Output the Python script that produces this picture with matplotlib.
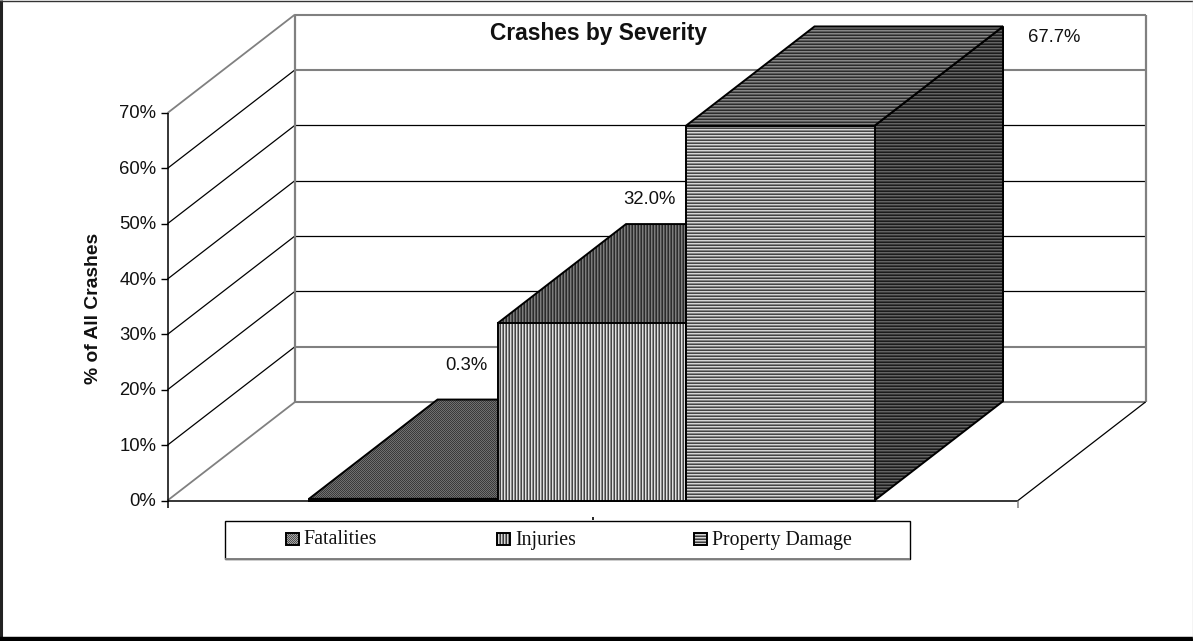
import numpy as np
import matplotlib
matplotlib.use("Agg")
import matplotlib.pyplot as plt
from matplotlib.patches import Polygon, Rectangle

# Chart content
categories = ["Fatalities", "Injuries", "Property Damage"]
values = [0.3, 32.0, 67.7]
value_labels = ["0.3%", "32.0%", "67.7%"]
y_ticks = [0, 10, 20, 30, 40, 50, 60, 70]
y_tick_labels = ["0%", "10%", "20%", "30%", "40%", "50%", "60%", "70%"]
title = "Crashes by Severity"
y_title = "% of All Crashes"

W, H = 1193, 641

# Oblique projection of the 3-D plot box, in figure pixels
X_FRONT_LEFT, X_FRONT_RIGHT = 167.5, 1018.0
Y_ZERO, Y_TOP = 500.5, 113.0
DEPTH_X, DEPTH_Y = 127.5, 98.5
BAR_LEFT, BAR_WIDTH = 309.0, 188.5
BAR_DEPTH = 1.008


def py(v):
    return Y_ZERO - (Y_ZERO - Y_TOP) * v / y_ticks[-1]


def pt(x, v, depth=0.0):
    return (x + DEPTH_X * depth, py(v) - DEPTH_Y * depth)


def stripes(levels, axis):
    """Full-figure grayscale texture made of repeating one-pixel stripes."""
    n = len(levels)
    row = np.asarray(levels, dtype=float)
    if axis == "h":
        idx = np.arange(H) % n
        return np.tile(row[idx][:, None], (1, W))
    idx = np.arange(W) % n
    return np.tile(row[idx][None, :], (H, 1))


def stipple(a, b):
    yy, xx = np.mgrid[0:H, 0:W]
    return np.where((xx + yy) % 2 == 0, a, b).astype(float)


textures = {
    "Fatalities": {
        "front": stipple(90, 160),
        "side": stipple(40, 90),
        "top": stipple(58, 112),
        "legend": stipple(80, 165),
    },
    "Injuries": {
        "front": stripes([225, 140, 70], "v"),
        "side": stripes([80, 50, 25], "v"),
        "top": stripes([125, 80, 45], "v"),
        "legend": stripes([215, 130, 60], "v"),
    },
    "Property Damage": {
        "front": stripes([215, 135, 70], "h"),
        "side": stripes([100, 60, 28], "h"),
        "top": stripes([135, 90, 45], "h"),
        "legend": stripes([215, 130, 60], "h"),
    },
}

plt.rcParams["font.family"] = ["Liberation Sans", "DejaVu Sans"]
fig = plt.figure(figsize=(W / 100, H / 100), dpi=100, facecolor="white")
ax = fig.add_axes([0, 0, 1, 1])
ax.set_axis_off()

GRAY = "#808080"
BLACK = "#000000"


def line(xs, ys, color=BLACK, lw=0.9, z=2):
    ax.plot(xs, ys, color=color, lw=lw, solid_capstyle="butt", zorder=z)


def textured(verts, tex, z, edge=BLACK, lw=1.4):
    poly = Polygon(verts, closed=True, facecolor="none", edgecolor=edge, lw=lw,
                   joinstyle="miter", zorder=z + 0.1)
    ax.add_patch(poly)
    clip = Polygon(verts, closed=True, transform=ax.transData)
    im = ax.imshow(tex, cmap="gray", vmin=0, vmax=255, extent=(0, W, H, 0),
                   interpolation="nearest", aspect="auto", zorder=z)
    im.set_clip_path(clip)


# Walls and floor: gridlines on the left and back walls
for v in y_ticks:
    color = GRAY if v in (0, 10, 60, 70) else BLACK
    lw = 1.5 if v in (0, 10, 60, 70) else 0.9
    x0, y0 = pt(X_FRONT_LEFT, v)
    x1, y1 = pt(X_FRONT_LEFT, v, 1)
    x2, y2 = pt(X_FRONT_RIGHT, v, 1)
    line([x0, x1], [y0, y1], GRAY if v in (0, 70) else BLACK, 1.3 if v in (0, 70) else 0.9)
    line([x1, x2], [y1, y2], color, lw)
    line([X_FRONT_LEFT - 7, X_FRONT_LEFT], [y0, y0], BLACK, 1.0)
    ax.text(X_FRONT_LEFT - 11, y0 - 1, y_tick_labels[v // 10], ha="right", va="center_baseline",
            fontsize=13.3, color="#111111")

x_back_left = pt(X_FRONT_LEFT, 0, 1)[0]
x_back_right = pt(X_FRONT_RIGHT, 0, 1)[0]
line([x_back_left] * 2, [py(0) - DEPTH_Y, py(70) - DEPTH_Y], GRAY, 1.6)
line([x_back_right] * 2, [py(0) - DEPTH_Y, py(70) - DEPTH_Y], GRAY, 1.6)

# Front axes
line([X_FRONT_LEFT] * 2, [py(70), py(0) + 7], BLACK, 1.1)
line([X_FRONT_LEFT, X_FRONT_RIGHT], [py(0), py(0)], BLACK, 1.1)
line([X_FRONT_RIGHT] * 2, [py(0), py(0) + 7], GRAY, 1.1)
x1, y1 = pt(X_FRONT_RIGHT, 0, 1)
line([X_FRONT_RIGHT, x1], [py(0), y1], BLACK, 0.9)

# Bars, left to right so each one overlaps its neighbour's side
for i, (cat, val) in enumerate(zip(categories, values)):
    x0 = BAR_LEFT + i * BAR_WIDTH
    x1 = x0 + BAR_WIDTH
    z = 3 + i
    tex = textures[cat]
    d = BAR_DEPTH
    textured([pt(x1, 0), pt(x1, 0, d), pt(x1, val, d), pt(x1, val)], tex["side"], z)
    textured([pt(x0, val), pt(x1, val), pt(x1, val, d), pt(x0, val, d)], tex["top"], z + 0.2)
    textured([pt(x0, 0), pt(x1, 0), pt(x1, val), pt(x0, val)], tex["front"], z + 0.4)

# Value labels; the first one sits on a white box that lightens the gridline behind it
label_anchor = [(466, 364), (649.5, 197), (1054, 36)]
for (lx, ly), txt in zip(label_anchor, value_labels):
    ax.text(lx, ly, txt, ha="center", va="center_baseline", fontsize=13.3, color="#111111", zorder=2.5,
            bbox=dict(facecolor="white", edgecolor="none", pad=1.5) if txt == "0.3%" else None)

# Titles
ax.text(598.5, 31, title, ha="center", va="center_baseline", fontsize=16.4, fontweight="bold",
        color="#111111", zorder=9)
ax.text(93, 308.5, y_title, rotation=90, ha="center", va="center", fontsize=13.9,
        fontweight="bold", color="#111111")

# Centre category tick, mostly hidden by the legend box
line([592.5, 592.5], [516.5, 520], BLACK, 1.2)

# Legend box
ax.add_patch(Rectangle((224.5, 520.5), 685, 38.5, facecolor="white", edgecolor=BLACK, lw=1.0, zorder=7))
line([224.5, 910], [559, 559], GRAY, 1.4, z=7.5)
swatch_x = [286, 497, 694]
text_x = [303, 515, 712]
for cat, sx, tx in zip(categories, swatch_x, text_x):
    s = 12.5
    y0 = 532.5
    textured([(sx, y0), (sx + s, y0), (sx + s, y0 + s), (sx, y0 + s)], textures[cat]["legend"], 8, lw=1.4)
    ax.text(tx, 537.5, cat, ha="left", va="center_baseline", fontsize=14.3, color="#111111",
            family=["Liberation Serif", "DejaVu Serif"], zorder=9)

# Outer chart frame
line([1, 1], [0, 638], "#222222", 2.2, z=10)
line([0, W], [0.5, 0.5], "#333333", 1.0, z=10)
line([0, W], [639, 639], BLACK, 3.2, z=10)
line([1192.5, 1192.5], [0, 638], "#c8c8c8", 1.0, z=10)

ax.set_xlim(0, W)
ax.set_ylim(H, 0)
fig.savefig("out.png", dpi=100)
